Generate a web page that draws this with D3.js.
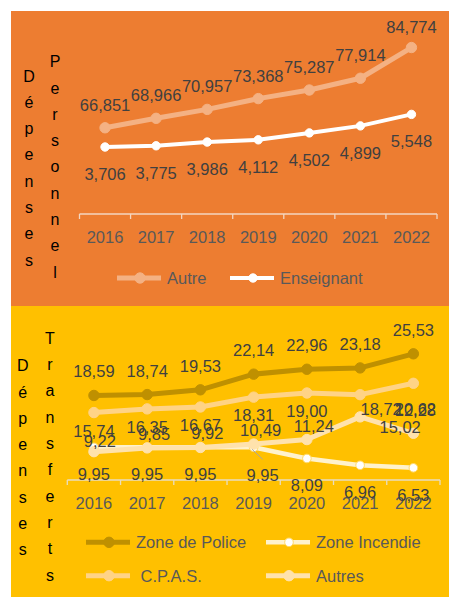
<!DOCTYPE html>
<html>
<head>
<meta charset="utf-8">
<script src="https://cdn.jsdelivr.net/npm/d3@7"></script>
<style>
html, body { margin: 0; padding: 0; background: #fff; }
text { font-family: "Liberation Sans", Arial, sans-serif; }
</style>
</head>
<body>
<div id="stage"></div>
<script>
// data
var years = ['2016', '2017', '2018', '2019', '2020', '2021', '2022'];
var autre = [66.851, 68.966, 70.957, 73.368, 75.287, 77.914, 84.774];
var enseignant = [3.706, 3.775, 3.986, 4.112, 4.502, 4.899, 5.548];
var police = [18.59, 18.74, 19.53, 22.14, 22.96, 23.18, 25.53];
var incendie = [9.95, 9.95, 9.95, 9.95, 8.09, 6.96, 6.53];
var cpas = [15.74, 16.35, 16.67, 18.31, 19.00, 18.72, 20.62];
var autres = [9.22, 9.85, 9.92, 10.49, 11.24, 15.02, 12.28];
var top_names = ['Autre', 'Enseignant'];
var bottom_names = ['Zone de Police', 'Zone Incendie', ' C.P.A.S.', 'Autres'];
var top_titles = ['Dépenses', 'Personnel'];
var bottom_titles = ['Dépenses', 'Transferts'];

var W = 449, H = 599;
var locale = d3.formatLocale({decimal: ',', thousands: ' ', grouping: [3], currency: ['', '']});
var fmt3 = locale.format('.3f');
var fmt2 = locale.format('.2f');

var svg = d3.select('#stage').append('svg').attr('width', W).attr('height', H);
svg.append('rect').attr('width', W).attr('height', H).attr('fill', '#fff');

/**
 * panneau : fond, axe des catégories, titres verticaux
 */
var draw_panel = function (box, x, axis_y, axis_color, titles, title_x, title_y0) {
    var g = svg.append('g');
    g.append('rect').attr('x', box.x).attr('y', box.y).attr('width', box.w).attr('height', box.h).attr('fill', box.fill);
    var r = x.range();
    g.append('line').attr('x1', r[0]).attr('x2', r[1]).attr('y1', axis_y).attr('y2', axis_y)
        .attr('stroke', axis_color).attr('stroke-width', 1.3);
    // ticks between categories
    g.selectAll(null).data(d3.range(years.length + 1)).enter().append('line')
        .attr('x1', function (i) { return r[0] + i * x.step(); })
        .attr('x2', function (i) { return r[0] + i * x.step(); })
        .attr('y1', axis_y).attr('y2', axis_y + 5)
        .attr('stroke', axis_color).attr('stroke-width', 1.3);
    var ax = d3.axisBottom(x).tickSize(0).tickPadding(0);
    var axg = g.append('g').attr('transform', 'translate(0,' + axis_y + ')').call(ax);
    axg.select('.domain').remove();
    axg.selectAll('text').attr('font-size', 16.5).attr('fill', '#595959')
        .attr('font-family', '"Liberation Sans", Arial, sans-serif')
        .attr('dy', null).attr('y', 23).attr('dominant-baseline', 'central');
    titles.forEach(function (word, k) {
        g.selectAll(null).data(word.split('')).enter().append('text')
            .attr('x', title_x[k])
            .attr('y', function (c, i) { return title_y0[k] + i * 26.3; })
            .attr('text-anchor', 'middle').attr('dominant-baseline', 'central')
            .attr('font-size', 16).attr('fill', '#000')
            .text(function (c) { return c; });
    });
    return g;
};

var cx = function (x, i) { return x(years[i]) + x.bandwidth() / 2; };

var draw_series = function (g, x, y, values, s) {
    var line = d3.line().x(function (d, i) { return cx(x, i); }).y(function (d) { return y(d); });
    g.append('path').datum(values).attr('d', line).attr('fill', 'none')
        .attr('stroke', s.color).attr('stroke-width', s.width).attr('stroke-linejoin', 'round');
    g.selectAll(null).data(values).enter().append('circle')
        .attr('cx', function (d, i) { return cx(x, i); })
        .attr('cy', function (d) { return y(d); })
        .attr('r', s.r).attr('fill', s.marker_fill).attr('stroke', s.marker_stroke).attr('stroke-width', 1);
};

var draw_labels = function (g, x, y, values, s, f) {
    g.selectAll(null).data(values).enter().append('text')
        .attr('x', function (d, i) { return cx(x, i) + s.dx + ((s.nudge[i] || [0, 0])[0]); })
        .attr('y', function (d, i) { return y(d) + s.dy + ((s.nudge[i] || [0, 0])[1]); })
        .attr('text-anchor', 'middle').attr('dominant-baseline', 'central')
        .attr('font-size', 16.5).attr('fill', '#404040')
        .text(function (d) { return f(d); });
};

var draw_legend = function (g, items) {
    items.forEach(function (it) {
        var s = it.s;
        g.append('line').attr('x1', it.x).attr('x2', it.x + 44).attr('y1', it.y).attr('y2', it.y)
            .attr('stroke', s.color).attr('stroke-width', s.width);
        g.append('circle').attr('cx', it.x + 23).attr('cy', it.y).attr('r', s.r)
            .attr('fill', s.marker_fill).attr('stroke', s.marker_stroke).attr('stroke-width', 1);
        g.append('text').attr('x', it.x + 50).attr('y', it.y).attr('dominant-baseline', 'central')
            .attr('font-size', 16.5).attr('fill', '#595959').style('white-space', 'pre')
            .text(it.name);
    });
};

// ---------- haut : personnel ----------
var x_top = d3.scaleBand().domain(years).range([79.5, 437]);
var y_left = d3.scaleLinear().domain([47.6, 86.9]).range([214, 38]);
var y_right = d3.scaleLinear().domain([0, 10]).range([212.6, 35.6]);
var top_g = draw_panel({x: 11, y: 11, w: 438, h: 295, fill: '#ED7D31'}, x_top, 214, '#F3D6C0',
    top_titles, [29, 55], [76, 61.7]);
var s_autre = {color: '#F4B183', width: 5, r: 5.2, marker_fill: '#F4B183', marker_stroke: '#F4B183', dx: 0, dy: -23, nudge: {6: [0, 2]}};
var s_ens = {color: '#FFFFFF', width: 4, r: 4.2, marker_fill: '#FFFFFF', marker_stroke: '#FFFFFF', dx: 0, dy: 27, nudge: {}};
draw_series(top_g, x_top, y_left, autre, s_autre);
draw_series(top_g, x_top, y_right, enseignant, s_ens);
draw_labels(top_g, x_top, y_left, autre, s_autre, fmt3);
draw_labels(top_g, x_top, y_right, enseignant, s_ens, fmt3);
draw_legend(top_g, [
    {s: s_autre, name: top_names[0], x: 117, y: 278},
    {s: s_ens, name: top_names[1], x: 230, y: 278}
]);

// ---------- bas : transferts ----------
var x_bot = d3.scaleBand().domain(years).range([67.3, 440]);
var y_bot = d3.scaleLinear().domain([4.5, 30]).range([480, 327]);
var bot_g = draw_panel({x: 11, y: 306, w: 438, h: 291, fill: '#FFC000'}, x_bot, 480, '#E8DDC0',
    bottom_titles, [22.7, 50], [365.7, 338.3]);
var s_police = {color: '#BF9000', width: 5, r: 5.2, marker_fill: '#BF9000', marker_stroke: '#BF9000', dx: 0, dy: -24, nudge: {}};
var s_incendie = {color: '#FFF2CC', width: 4.5, r: 4.3, marker_fill: '#FFFFFF', marker_stroke: '#FFD966', dx: 0, dy: 27, nudge: {3: [9, 1]}};
var s_cpas = {color: '#FFD386', width: 5, r: 5.2, marker_fill: '#FFD386', marker_stroke: '#FFD386', dx: 0, dy: 18, nudge: {5: [21, -4], 6: [2, 8]}};
var s_autres = {color: '#FFE2AC', width: 5, r: 5.2, marker_fill: '#FFE2AC', marker_stroke: '#FFE2AC', dx: 7, dy: -14, nudge: {0: [-1, 3], 5: [33, 24], 6: [-5, -9]}};
draw_series(bot_g, x_bot, y_bot, police, s_police);
draw_series(bot_g, x_bot, y_bot, incendie, s_incendie);
draw_series(bot_g, x_bot, y_bot, cpas, s_cpas);
draw_series(bot_g, x_bot, y_bot, autres, s_autres);
// ligne de rappel de l'étiquette déplacée (2019, Zone Incendie)
bot_g.append('line')
    .attr('x1', cx(x_bot, 3) - 1.5).attr('y1', y_bot(incendie[3]) + 2)
    .attr('x2', cx(x_bot, 3) + s_incendie.nudge[3][0]).attr('y2', y_bot(incendie[3]) + 12)
    .attr('stroke', '#A6A6A6').attr('stroke-width', 1);
draw_labels(bot_g, x_bot, y_bot, police, s_police, fmt2);
draw_labels(bot_g, x_bot, y_bot, incendie, s_incendie, fmt2);
draw_labels(bot_g, x_bot, y_bot, cpas, s_cpas, fmt2);
draw_labels(bot_g, x_bot, y_bot, autres, s_autres, fmt2);
draw_legend(bot_g, [
    {s: s_police, name: bottom_names[0], x: 86, y: 542.3},
    {s: s_incendie, name: bottom_names[1], x: 266, y: 542.3},
    {s: s_cpas, name: bottom_names[2], x: 86, y: 575.7},
    {s: s_autres, name: bottom_names[3], x: 266, y: 575.7}
]);
</script>
</body>
</html>
